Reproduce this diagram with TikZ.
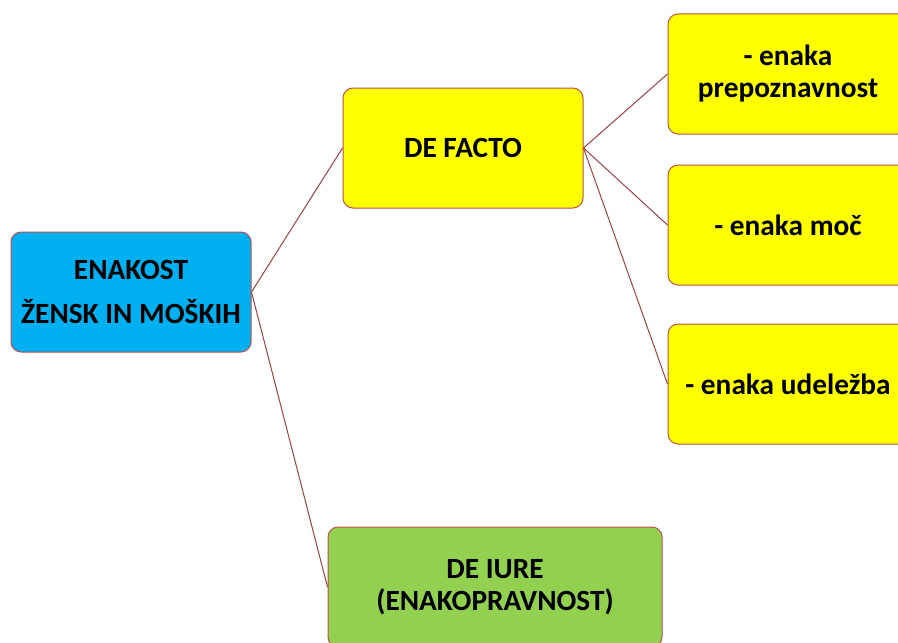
\documentclass[tikz,border=0pt]{standalone}
\usepackage{fontspec}
\setmainfont{Carlito}
\usetikzlibrary{positioning}

\definecolor{boxline}{RGB}{192,80,77}
\definecolor{linkline}{RGB}{160,64,64}
\definecolor{rootfill}{RGB}{0,176,240}
\definecolor{factofill}{RGB}{255,255,0}
\definecolor{iurefill}{RGB}{146,208,80}

\tikzset{
	mapbox/.style={draw=boxline, line width=0.75pt, rounded corners=7.5pt,
		minimum width=180pt, minimum height=90pt, align=center, inner sep=2pt,
		font=\bfseries\fontsize{22}{24}\selectfont},
	link/.style={draw=linkline, line width=0.75pt},
}

\begin{document}
\begin{tikzpicture}[x=0.75pt, y=-0.75pt]
	\useasboundingbox (0,0) rectangle (898,642);
	\clip (0,0) rectangle (898,642);
	\node[mapbox, fill=rootfill] (root) at (131,292) {ENAKOST\\[9pt]ŽENSK IN MOŠKIH};
	\node[mapbox, fill=factofill] (facto) at (463,148) {DE FACTO};
	\node[mapbox, fill=iurefill, minimum width=250.5pt] (iure) at (495,587) {DE IURE\\(ENAKOPRAVNOST)};
	\node[mapbox, fill=factofill] (recog) at (788,74) {- enaka\\prepoznavnost};
	\node[mapbox, fill=factofill] (power) at (788,225) {- enaka moč};
	\node[mapbox, fill=factofill] (part) at (788,384) {- enaka udeležba};
	\draw[link] (root.east) -- (facto.west);
	\draw[link] (root.east) -- (iure.west);
	\draw[link] (facto.east) -- (recog.west);
	\draw[link] (facto.east) -- (power.west);
	\draw[link] (facto.east) -- (part.west);
\end{tikzpicture}
\end{document}
